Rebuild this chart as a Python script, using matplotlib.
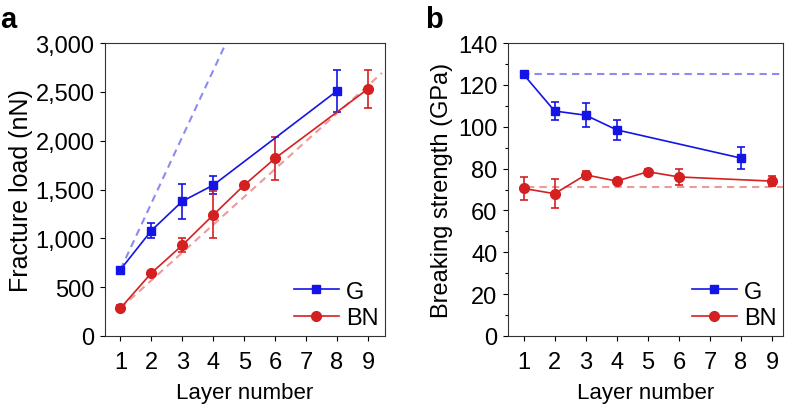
# Fracture load and breaking strength vs layer number

import matplotlib.pyplot as plt
import numpy as np
from matplotlib.lines import Line2D
from matplotlib.ticker import FuncFormatter, MultipleLocator

plt.rcParams['font.family'] = ['Liberation Sans', 'DejaVu Sans']

# Panel a: fracture load (nN)
g_layers = [1, 2, 3, 4, 8]
g_load = [680, 1080, 1380, 1545, 2510]
g_load_err = [25, 80, 180, 95, 215]
bn_layers = [1, 2, 3, 4, 5, 6, 9]
bn_load = [285, 645, 930, 1240, 1545, 1820, 2530]
bn_load_err = [30, 25, 70, 240, 20, 220, 195]

# Panel b: breaking strength (GPa)
g_strength = [125, 107.5, 105.5, 98.5, 85]
g_strength_err = [1, 4.3, 5.8, 4.8, 5.3]
bn_strength = [70.5, 68, 77, 74, 78.5, 76, 74]
bn_strength_err = [5.5, 7, 2, 1.2, 1.5, 4, 2.5]

# reference lines (monolayer scaling / constant strength)
g_ref_slope = 680
bn_ref_slope = 285
g_ref_strength = 125
bn_ref_strength = 71

blue = '#1414e6'
red = '#d42020'
blue_dash = '#8c8cf0'
red_dash = '#ec9a9a'

W, H = 788, 406
fig = plt.figure(figsize=(7.88, 4.06), dpi=100)
ax1 = fig.add_axes([105 / W, 69 / H, 280 / W, 293 / H])
ax2 = fig.add_axes([508 / W, 69 / H, 275 / W, 293 / H])

# --- panel a
n = np.linspace(1, 4.5, 50)
ax1.plot(n, g_ref_slope * n, '--', color=blue_dash, lw=1.5, dashes=(3.5, 2.5), zorder=1)
n = np.linspace(1, 9.45, 50)
ax1.plot(n, bn_ref_slope * n, '--', color=red_dash, lw=1.5, dashes=(3.5, 2.5), zorder=1)

ax1.errorbar(g_layers, g_load, yerr=g_load_err, color=blue, marker='s',
             ms=6, lw=1.2, capsize=3, capthick=1.2, zorder=3)
ax1.errorbar(bn_layers, bn_load, yerr=bn_load_err, color=red, marker='o',
             ms=7, lw=1.2, capsize=3, capthick=1.2, zorder=3)

ax1.set_xlim(0.5, 9.55)
ax1.set_ylim(0, 3000)
ax1.set_xticks(range(1, 10))
ax1.set_yticks(range(0, 3001, 500))
ax1.yaxis.set_major_formatter(FuncFormatter(lambda v, p: f'{int(v):,}'))
ax1.set_ylabel('Fracture load (nN)', fontsize=18, labelpad=2)
fig.text(0, 1 - 28 / H, 'a', fontsize=21, fontweight='bold', va='baseline')

# --- panel b
ax2.axhline(g_ref_strength, xmin=0.05, xmax=1, color=blue_dash, lw=1.5,
            dashes=(3.5, 2.5), zorder=1)
ax2.axhline(bn_ref_strength, xmin=0.07, xmax=1, color=red_dash, lw=1.5,
            dashes=(3.5, 2.5), zorder=1)

ax2.errorbar(g_layers, g_strength, yerr=g_strength_err, color=blue, marker='s',
             ms=6, lw=1.2, capsize=3, capthick=1.2, zorder=3)
ax2.errorbar(bn_layers, bn_strength, yerr=bn_strength_err, color=red, marker='o',
             ms=7, lw=1.2, capsize=3, capthick=1.2, zorder=3)

ax2.set_xlim(0.5, 9.35)
ax2.set_ylim(0, 140)
ax2.set_xticks(range(1, 10))
ax2.set_yticks(range(0, 141, 20))
ax2.yaxis.set_minor_locator(MultipleLocator(10))
ax2.set_ylabel('Breaking strength (GPa)', fontsize=17, labelpad=4)
fig.text(425 / W, 1 - 28 / H, 'b', fontsize=21, fontweight='bold', va='baseline')

handles = [Line2D([], [], color=blue, marker='s', ms=6, lw=1.2),
           Line2D([], [], color=red, marker='o', ms=7, lw=1.2)]

for ax in (ax1, ax2):
    ax.set_xlabel('Layer number', fontsize=16, labelpad=7)
    ax.tick_params(labelsize=17, direction='out', length=3.6, width=0.8, pad=7)
    ax.tick_params(axis='y', pad=4)
    ax.tick_params(which='minor', length=2.5, width=0.8)
    for s in ax.spines.values():
        s.set_linewidth(0.8)
        s.set_color('#333333')
    ax.legend(handles, ['G', 'BN'], loc='lower right', frameon=False,
              fontsize=17, handlelength=1.9, handletextpad=0.3,
              borderaxespad=0, bbox_to_anchor=(1.01, -0.01),
              labelspacing=0.2)

fig.savefig('out.png')
